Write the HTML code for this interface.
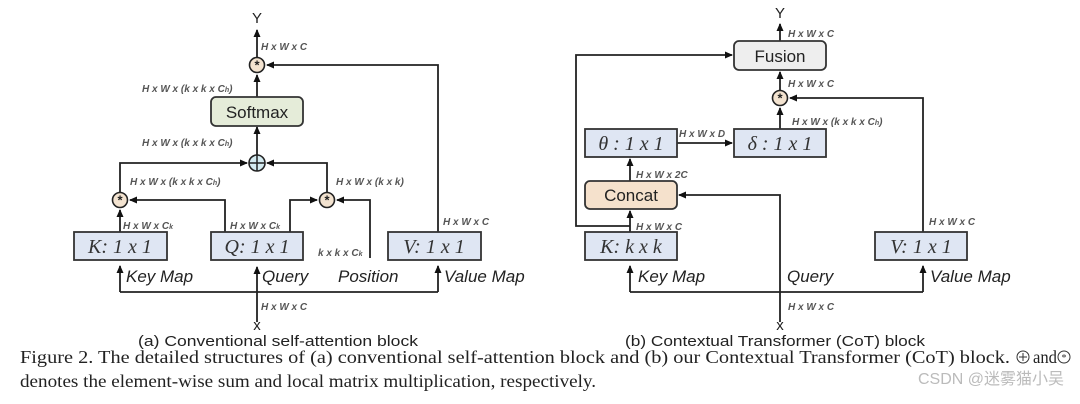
<!DOCTYPE html>
<html><head><meta charset="utf-8"><style>
html,body{margin:0;padding:0;background:#fff;}
svg{display:block;}
.d{font-family:"Liberation Sans",sans-serif;font-style:italic;font-weight:bold;font-size:10px;fill:#555;}
.lab{font-family:"Liberation Sans",sans-serif;font-style:italic;font-size:17px;fill:#222;}
.bx{font-family:"Liberation Serif",serif;font-style:italic;font-size:20px;fill:#333;}
.cap{font-family:"Liberation Sans",sans-serif;font-size:15px;fill:#222;}
.fig{font-family:"Liberation Serif",serif;font-size:18px;fill:#222;}
</style></head><body>
<svg width="1080" height="404" viewBox="0 0 1080 404" xmlns="http://www.w3.org/2000/svg">
<defs>
<marker id="a" markerWidth="8" markerHeight="8" refX="7" refY="4" orient="auto" markerUnits="userSpaceOnUse"><path d="M0,0.5 L8,4 L0,7.5z" fill="#111"/></marker>
<g id="st"><circle r="7.5" fill="#f3e3d0" stroke="#222" stroke-width="1.6"/><text y="4.5" text-anchor="middle" font-family="Liberation Sans" font-size="13" font-weight="bold" fill="#222">*</text></g>
</defs>
<g stroke="#222" stroke-width="1.8" fill="none">
<path d="M120,292 H438"/>
<path d="M257,322 V267" marker-end="url(#a)"/>
<path d="M120,292 V266" marker-end="url(#a)"/>
<path d="M438,292 V266" marker-end="url(#a)"/>
<path d="M120,232 V210" marker-end="url(#a)"/>
<path d="M225,232 V200 H130" marker-end="url(#a)"/>
<path d="M290,232 V200 H317" marker-end="url(#a)"/>
<path d="M370,258 V200 H337" marker-end="url(#a)"/>
<path d="M120,192 V163 H247" marker-end="url(#a)"/>
<path d="M327,192 V163 H267" marker-end="url(#a)"/>
<path d="M257,155 V127" marker-end="url(#a)"/>
<path d="M257,97 V75" marker-end="url(#a)"/>
<path d="M438,232 V65 H267" marker-end="url(#a)"/>
<path d="M257,57 V30" marker-end="url(#a)"/>
<path d="M630,292 H923"/>
<path d="M630,292 V266" marker-end="url(#a)"/>
<path d="M923,292 V266" marker-end="url(#a)"/>
<path d="M780,322 V195 H679" marker-end="url(#a)"/>
<path d="M630,232 V211" marker-end="url(#a)"/>
<path d="M630,226 H576 V55 H732" marker-end="url(#a)"/>
<path d="M630,181 V159" marker-end="url(#a)"/>
<path d="M677,143 H732" marker-end="url(#a)"/>
<path d="M780,129 V108" marker-end="url(#a)"/>
<path d="M923,232 V98 H790" marker-end="url(#a)"/>
<path d="M780,90 V72" marker-end="url(#a)"/>
<path d="M780,41 V24" marker-end="url(#a)"/>
</g>
<g stroke="#333" stroke-width="1.8">
<rect x="74" y="232" width="93" height="28" fill="#dfe6f3"/>
<rect x="211" y="232" width="92" height="28" fill="#dfe6f3"/>
<rect x="388" y="232" width="93" height="28" fill="#dfe6f3"/>
<rect x="211" y="97" width="92" height="29" rx="5" fill="#e5ecd9"/>
<rect x="585" y="232" width="92" height="28" fill="#dfe6f3"/>
<rect x="875" y="232" width="92" height="28" fill="#dfe6f3"/>
<rect x="585" y="129" width="92" height="28" fill="#dfe6f3"/>
<rect x="734" y="129" width="92" height="28" fill="#dfe6f3"/>
<rect x="585" y="181" width="92" height="28" rx="5" fill="#f5e1cc"/>
<rect x="734" y="41" width="92" height="29" rx="5" fill="#eeeeee"/>
</g>
<use href="#st" x="257" y="65"/>
<use href="#st" x="120" y="200"/>
<use href="#st" x="327" y="200"/>
<use href="#st" x="780" y="98"/>
<g><circle cx="257" cy="163" r="8" fill="#d5ecf2" stroke="#222" stroke-width="1.6"/><path d="M249,163 H265 M257,155 V171" stroke="#222" stroke-width="1.5"/></g>
<text class="bx" x="120" y="253" text-anchor="middle">K: 1 x 1</text>
<text class="bx" x="257" y="253" text-anchor="middle">Q: 1 x 1</text>
<text class="bx" x="434" y="253" text-anchor="middle">V: 1 x 1</text>
<text x="257" y="118" text-anchor="middle" font-family="Liberation Sans" font-size="17" fill="#222">Softmax</text>
<text class="bx" x="631" y="253" text-anchor="middle">K: k x k</text>
<text class="bx" x="921" y="253" text-anchor="middle">V: 1 x 1</text>
<text class="bx" x="631" y="150" text-anchor="middle">θ : 1 x 1</text>
<text class="bx" x="780" y="150" text-anchor="middle">δ : 1 x 1</text>
<text x="631" y="201" text-anchor="middle" font-family="Liberation Sans" font-size="17" fill="#222">Concat</text>
<text x="780" y="62" text-anchor="middle" font-family="Liberation Sans" font-size="17" fill="#222">Fusion</text>
<g font-family="Liberation Sans" font-size="15" fill="#222" text-anchor="middle">
<text x="257" y="23">Y</text><text x="257" y="330">x</text>
<text x="780" y="18">Y</text><text x="780" y="330">x</text>
</g>
<text class="lab" x="126" y="282">Key Map</text>
<text class="lab" x="262" y="282">Query</text>
<text class="lab" x="338" y="282">Position</text>
<text class="lab" x="444" y="282">Value Map</text>
<text class="lab" x="638" y="282">Key Map</text>
<text class="lab" x="787" y="282">Query</text>
<text class="lab" x="930" y="282">Value Map</text>
<g class="d">
<text x="261" y="50">H x W x C</text>
<text x="142" y="92">H x W x (k x k x C<tspan font-size="7">h</tspan>)</text>
<text x="142" y="146">H x W x (k x k x C<tspan font-size="7">h</tspan>)</text>
<text x="130" y="185">H x W x (k x k x C<tspan font-size="7">h</tspan>)</text>
<text x="336" y="185">H x W x (k x k)</text>
<text x="123" y="229">H x W x C<tspan font-size="7">k</tspan></text>
<text x="230" y="229">H x W x C<tspan font-size="7">k</tspan></text>
<text x="318" y="256">k x k x C<tspan font-size="7">k</tspan></text>
<text x="443" y="225">H x W x C</text>
<text x="261" y="310">H x W x C</text>
<text x="788" y="37">H x W x C</text>
<text x="788" y="87">H x W x C</text>
<text x="792" y="125">H x W x (k x k x C<tspan font-size="7">h</tspan>)</text>
<text x="679" y="137">H x W x D</text>
<text x="636" y="178">H x W x 2C</text>
<text x="636" y="230">H x W x C</text>
<text x="929" y="225">H x W x C</text>
<text x="788" y="310">H x W x C</text>
</g>
<text class="cap" x="138" y="346" textLength="280" lengthAdjust="spacingAndGlyphs">(a) Conventional self-attention block</text>
<text class="cap" x="625" y="346" textLength="300" lengthAdjust="spacingAndGlyphs">(b) Contextual Transformer (CoT) block</text>
<text class="fig" x="20" y="363" textLength="990" lengthAdjust="spacingAndGlyphs">Figure 2. The detailed structures of (a) conventional self-attention block and (b) our Contextual Transformer (CoT) block.</text>
<g stroke="#333" stroke-width="1" fill="none"><circle cx="1023" cy="357" r="6"/><path d="M1019,357 H1027 M1023,353 V361"/><circle cx="1064" cy="357" r="6"/></g>
<text class="fig" x="1033" y="363" textLength="24" lengthAdjust="spacingAndGlyphs">and</text>
<text x="1064" y="361" text-anchor="middle" font-size="10" fill="#333">*</text>
<text class="fig" x="20" y="387" textLength="576" lengthAdjust="spacingAndGlyphs">denotes the element-wise sum and local matrix multiplication, respectively.</text>
<text x="918" y="384" font-family="Liberation Sans,Noto Sans CJK SC,sans-serif" font-size="16" fill="#bbb">CSDN @迷雾猫小吴</text>
</svg>
</body></html>
